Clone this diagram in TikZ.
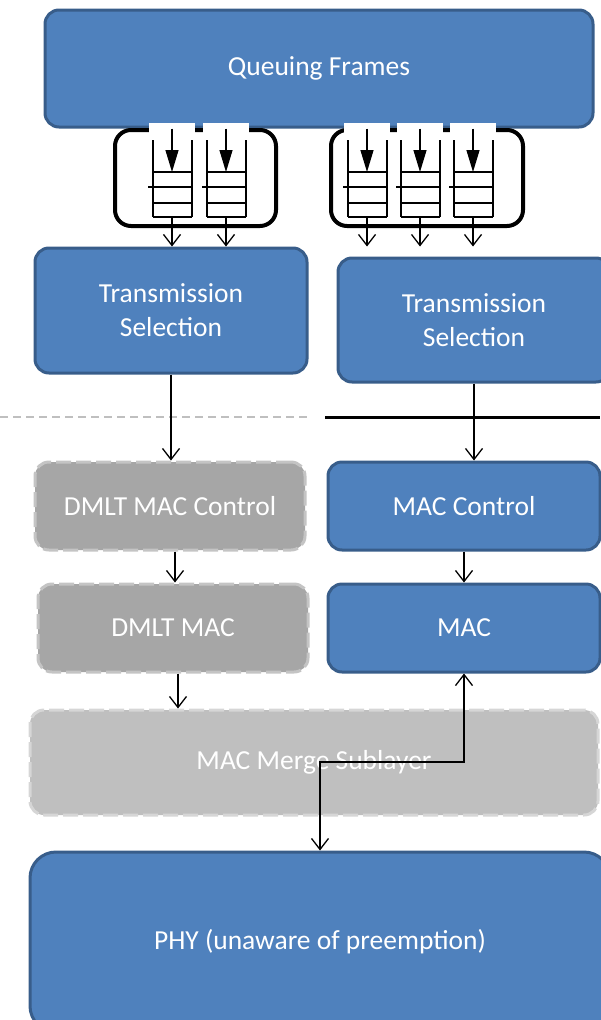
\documentclass[tikz,border=0pt]{standalone}
\usepackage{fontspec}
\setmainfont{Carlito}
\usetikzlibrary{arrows.meta}
\definecolor{boxblue}{HTML}{4F81BD}
\definecolor{boxedge}{HTML}{385D8A}
\definecolor{dmltgray}{HTML}{A6A6A6}
\definecolor{dmltedge}{HTML}{C4C4C4}
\definecolor{mergegray}{HTML}{BFBFBF}
\definecolor{mergeedge}{HTML}{D6D6D6}
\tikzset{
  layer/.style={draw=boxedge, fill=boxblue, line width=3pt, rounded corners=14pt,
    text=white, align=center, font=\fontsize{27.5}{34}\selectfont},
  ghost/.style={layer, draw=dmltedge, fill=dmltgray, dash pattern=on 15pt off 5pt},
  merge/.style={ghost, draw=mergeedge, fill=mergegray},
  qbox/.style={draw, line width=4pt, rounded corners=16pt},
  flow/.style={-{Straight Barb[length=11pt,width=17pt]}, line width=1.3pt},
  both/.style={{Straight Barb[length=11pt,width=17pt]}-{Straight Barb[length=11pt,width=17pt]}, line width=1.3pt},
}
% one FIFO queue below the frame box, centre x = #1
\newcommand{\fifo}[2]{%
  \fill[white] (#1-23,123) rectangle (#1+23,134);
  \draw[line width=1.2pt] (#1-19,140) -- (#1-19,217) (#1+20,140) -- (#1+20,217);
  \foreach \y in {172,187,203,217} \draw[line width=1.2pt] (#1-19,\y) -- (#1+20,\y);
  \draw[line width=1.2pt] (#1-24,187) -- (#1-19,187);
  \coordinate (#2-in) at (#1,172);
  \coordinate (#2-out) at (#1,217);
}
\begin{document}
\begin{tikzpicture}[x=1pt,y=-1pt]
  \useasboundingbox (0,0) rectangle (600,1020);
  % Layers
  \node[layer, minimum width=548pt, minimum height=117pt] (frames) at (319,68.5) {Queuing Frames};
  \node[layer, minimum width=272pt, minimum height=125pt] (tsl) at (171,310.5) {Transmission\\Selection};
  \node[layer, minimum width=272pt, minimum height=124pt] (tsr) at (474,320) {Transmission\\Selection};
  \node[ghost, minimum width=270pt, minimum height=88pt] (dmltctl) at (170,506) {DMLT MAC Control};
  \node[ghost, minimum width=270pt, minimum height=88pt] (dmltmac) at (173,628) {DMLT MAC};
  \node[layer, minimum width=272pt, minimum height=88pt] (macctl) at (464,506) {MAC Control};
  \node[layer, minimum width=272pt, minimum height=88pt] (mac) at (464,628) {MAC};
  \node[merge, minimum width=568pt, minimum height=105pt] (merge) at (314,762.5) {MAC Merge Sublayer};
  \node[layer, rounded corners=26pt, minimum width=580pt, minimum height=180pt] (phy) at (320,942) {PHY (unaware of preemption)};
  % Queues
  \draw[qbox] (115,130) rectangle (276,226);
  \draw[qbox] (331,130) rectangle (523,226);
  \fifo{172}{q1}
  \fifo{226}{q2}
  \fifo{367}{q3}
  \fifo{420}{q4}
  \fifo{473}{q5}
  \foreach \q in {q1,q2,q3,q4,q5} {
    \draw[-{Triangle[length=22pt,width=13pt]}, line width=1.2pt] (\q-in |- frames.south) -- (\q-in);
  }
  \foreach \q in {q1,q2} \draw[flow] (\q-out) -- (\q-out |- tsl.north);
  \foreach \q in {q3,q4,q5} \draw[flow] (\q-out) -- ([yshift=10pt]\q-out |- tsr.north);
  % Separator
  \draw[mergegray, line width=1.5pt, dash pattern=on 8pt off 5pt] (0,417) -- (310,417);
  \draw[line width=3pt] (325,417) -- (600,417);
  % Connectors
  \draw[flow] (tsl.south) -- (tsl.south |- dmltctl.north);
  \draw[flow] (tsr.south) -- (tsr.south |- macctl.north);
  \draw[flow] ([xshift=5pt]dmltctl.south) -- ([xshift=5pt]dmltctl.south |- dmltmac.north);
  \draw[flow] ([xshift=5pt]dmltmac.south) -- ([xshift=5pt]dmltmac.south |- merge.north);
  \draw[flow] (macctl.south) -- (mac.north);
  \coordinate (bend) at (320,762);
  \draw[both] (mac.south) -- (mac.south |- bend) -- (bend) -- (phy.north);
\end{tikzpicture}
\end{document}
